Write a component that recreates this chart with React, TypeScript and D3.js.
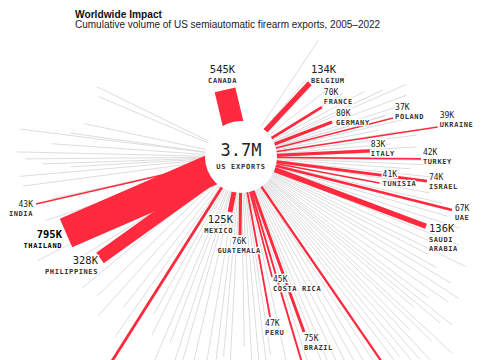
import React from "react";
import * as d3 from "d3";

const W = 485;
const H = 360;
const CX = 241;
const CY = 157;
const HOLE = 36;

// Labelled countries (volume in thousands, bearing in degrees clockwise from north, reach in px)
const countries = [
  "Canada", "Belgium", "France", "Germany", "Poland", "Ukraine", "Italy", "Turkey",
  "Tunisia", "Israel", "UAE", "Saudi Arabia", "Mexico", "Guatemala", "Costa Rica",
  "Peru", "Brazil", "Philippines", "Thailand", "India",
];
const volumesK = [545, 134, 70, 80, 37, 39, 83, 42, 41, 74, 67, 136, 125, 76, 45, 47, 75, 328, 795, 43];
const bearings = [346.6, 43, 58.3, 69, 75.6, 81.3, 87.3, 90.6, 100.6, 97.4, 104.1, 110.5, 191.3, 180.7, 165.5, 169.7, 160.2, 234.4, 246.5, 257.1];
const reach = [69, 101, 95, 97.5, 157, 199, 129, 180, 141, 187.5, 217.5, 197.5, 56, 78, 124, 162.6, 186, 173.4, 190.8, 210.3];

// Unlabelled red routes that run off the frame
const extraRedBearings = [212.3, 163.5, 145.5];
const extraRedReach = [270, 270, 300];
const extraRedK = [72, 50, 58];

// Grey (other) destinations
const greyBearings = [
  33.5, 40, 52, 58, 62, 64.7, 66.3, 69.5, 72.2, 74, 77, 79, 80.9, 82.9, 85, 86.7, 88, 91, 92.4, 94,
  96, 98.5, 100.8, 102.9, 106, 108, 110, 112, 114, 116, 117.5, 119.5, 121, 123, 125, 127, 128.5,
  129.8, 131, 132.9, 134, 135.7, 137, 138.5, 140, 141.5, 143, 147, 149, 151, 153, 155, 157, 158.5,
  162, 167.5, 171.5, 173, 175, 177, 179, 183, 185, 187, 189.5, 193, 196, 198, 200.9, 203, 206.6,
  209, 215, 218, 222, 226, 230.5, 238, 243, 249, 252, 257.5, 262.4, 265, 266.7, 268, 269.5, 271.3,
  274, 277.2, 278, 282, 293, 296,
];
const greyReach = [
  140, 100, 134, 120, 140, 157, 181, 177, 164, 150, 170, 140, 160, 177, 150, 176, 152, 209, 194, 170,
  200, 175, 192, 205, 215, 230, 180, 235, 220, 250, 210, 225, 245, 260, 253, 235, 270,
  259, 230, 288, 265, 242, 290, 270, 300, 255, 310, 285, 260, 240, 280, 230, 300, 250,
  260, 240, 200, 250, 215, 230, 190, 230, 200, 250, 215, 230, 250, 215, 199, 230, 199,
  180, 220, 191, 213, 200, 206, 185, 228, 150, 205, 194, 220, 222, 171, 198, 216, 224,
  190, 223, 173, 160, 155, 160,
];
const greyK = [
  12, 10, 14, 30, 20, 25, 18, 22, 15, 30, 18, 12, 20, 15, 22, 18, 25, 15, 18, 20,
  15, 18, 22, 15, 20, 14, 25, 15, 14, 18, 20, 15, 14, 18, 15, 20, 12,
  14, 18, 12, 15, 20, 12, 14, 15, 18, 12, 15, 18, 20, 14, 18, 12, 15,
  15, 14, 18, 12, 15, 14, 18, 15, 14, 12, 15, 14, 12, 15, 14, 12, 15,
  14, 12, 15, 14, 12, 15, 14, 15, 12, 14, 15, 18, 20, 14, 15, 18, 15,
  14, 18, 15, 12, 14, 12,
];

const centerValue = "3.7M";
const centerLabel = "US EXPORTS";
const title = "Worldwide Impact";
const subtitle = "Cumulative volume of US semiautomatic firearm exports, 2005–2022";

type Layout = { anchor: "start" | "middle" | "end"; dx: number; dy: number; bold?: boolean; wrap?: boolean };
const labelLayout: Record<string, Layout> = {
  Canada: { anchor: "middle", dx: -2.5, dy: -17 },
  Belgium: { anchor: "start", dx: 1, dy: -10 },
  France: { anchor: "start", dx: 2, dy: -12 },
  Germany: { anchor: "start", dx: 4, dy: -6 },
  Poland: { anchor: "start", dx: 2, dy: -8 },
  Ukraine: { anchor: "start", dx: 2, dy: -9 },
  Italy: { anchor: "start", dx: 1, dy: -4 },
  Turkey: { anchor: "start", dx: 2, dy: -4 },
  Tunisia: { anchor: "start", dx: 3, dy: -6 },
  Israel: { anchor: "start", dx: 2, dy: -1 },
  UAE: { anchor: "start", dx: 3, dy: 1 },
  "Saudi Arabia": { anchor: "start", dx: 3, dy: 6, wrap: true },
  Mexico: { anchor: "end", dx: 3, dy: 11 },
  Guatemala: { anchor: "middle", dx: -1, dy: 9 },
  "Costa Rica": { anchor: "start", dx: 1, dy: 5 },
  Peru: { anchor: "start", dx: -5, dy: 9 },
  Brazil: { anchor: "start", dx: 0, dy: 9 },
  Philippines: { anchor: "end", dx: -2, dy: 6 },
  Thailand: { anchor: "end", dx: -4, dy: 5, bold: true },
  India: { anchor: "end", dx: -3, dy: 3 },
};

const RED = "#ff2a3d";
const GREY = "#d7d7d7";
const MONO = "'DejaVu Sans Mono', monospace";
const SANS = "'Liberation Sans', Arial, sans-serif";

export default function App() {
  const widthScale = d3.scaleLinear().domain([0, 795]).range([0, 31]);
  const rScale = d3.scaleLinear().domain([0, 100]).range([0, 100]);
  const rad = (deg: number) => (deg * Math.PI) / 180;
  const pt = (deg: number, r: number) => {
    const [x, y] = d3.pointRadial(rad(deg), rScale(r));
    return [CX + x, CY + y];
  };

  const greys = greyBearings.map((b, i) => ({ b, r: greyReach[i], w: Math.max(0.85, widthScale(greyK[i])) }));
  const extras = extraRedBearings.map((b, i) => ({ b, r: extraRedReach[i], w: widthScale(extraRedK[i]) }));
  const reds = countries.map((c, i) => ({ c, v: volumesK[i], b: bearings[i], r: reach[i], w: widthScale(volumesK[i]) }));

  const fmt = (v: number) => `${v}K`;

  return (
    <svg width={W} height={H} style={{ position: "absolute", left: 0, top: 0, background: "#fff" }}>
      <text x={75} y={17.5} fontFamily={SANS} fontWeight="bold" fontSize={10.2} fill="#111">
        {title}
      </text>
      <text x={75} y={27.5} fontFamily={SANS} fontSize={10} fill="#222">
        {subtitle}
      </text>

      <g>
        {greys.map((g, i) => {
          const [x, y] = pt(g.b, g.r);
          return <line key={"g" + i} x1={CX} y1={CY} x2={x} y2={y} stroke={GREY} strokeWidth={g.w} />;
        })}
      </g>
      <g>
        {extras.map((g, i) => {
          const [x, y] = pt(g.b, g.r);
          return <line key={"e" + i} x1={CX} y1={CY} x2={x} y2={y} stroke={RED} strokeWidth={g.w} />;
        })}
        {reds.map((d) => {
          const [x, y] = pt(d.b, d.r);
          return <line key={d.c} x1={CX} y1={CY} x2={x} y2={y} stroke={RED} strokeWidth={d.w} />;
        })}
      </g>

      <circle cx={CX} cy={CY} r={HOLE} fill="#fff" />
      <text x={CX} y={156} textAnchor="middle" fontFamily={MONO} fontSize={17} fill="#222">
        {centerValue}
      </text>
      <text x={CX} y={169} textAnchor="middle" fontFamily={MONO} fontWeight="bold" fontSize={7} letterSpacing={0.75} fill="#333">
        {centerLabel}
      </text>

      <g>
        {reds.map((d) => {
          const L = labelLayout[d.c];
          const [ex, ey] = pt(d.b, d.r);
          const x = ex + L.dx;
          const y = ey + L.dy;
          const big = d.v >= 100;
          const nameLines = L.wrap ? d.c.toUpperCase().split(" ") : [d.c.toUpperCase()];
          const fill = L.bold ? "#000" : "#333";
          const gap = big ? 10 : 9;
          return (
            <g key={"l" + d.c} style={{ paintOrder: "stroke" } as any} stroke="#fff" strokeWidth={2.5} strokeLinejoin="round">
              <text
                x={x}
                y={y}
                textAnchor={L.anchor}
                fontFamily={MONO}
                fontSize={big ? 10.5 : 8}
                fontWeight={L.bold ? "bold" : "normal"}
                fill={L.bold ? "#000" : "#222"}
              >
                {fmt(d.v)}
              </text>
              {nameLines.map((n, k) => (
                <text
                  key={k}
                  x={x}
                  y={y + gap + k * 8.5}
                  textAnchor={L.anchor}
                  fontFamily={MONO}
                  fontSize={7}
                  fontWeight="bold"
                  letterSpacing={0.6}
                  fill={fill}
                >
                  {n}
                </text>
              ))}
            </g>
          );
        })}
      </g>
    </svg>
  );
}
